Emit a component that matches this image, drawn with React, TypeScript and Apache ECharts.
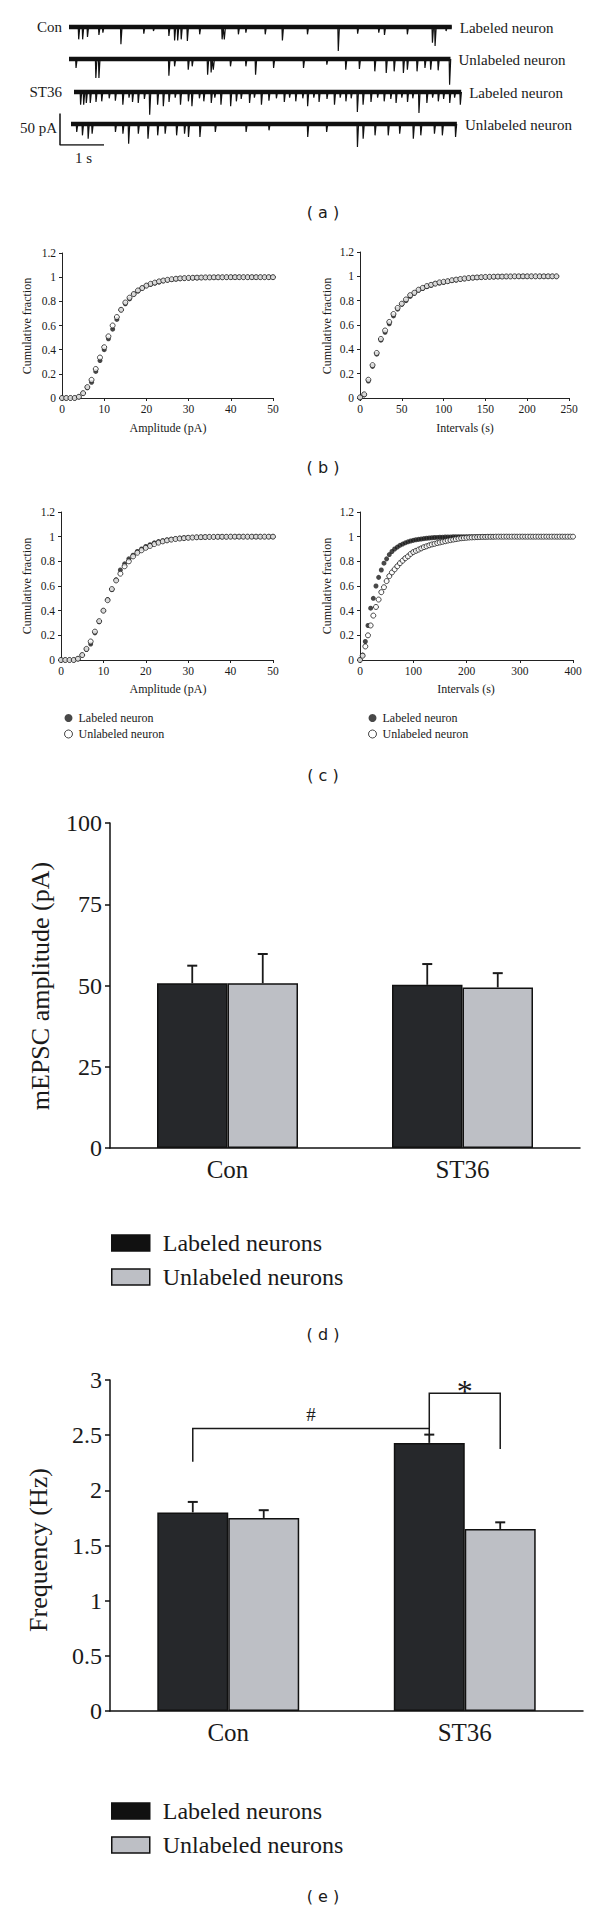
import React, { useEffect, useRef } from "react";
import * as echarts from "echarts";

const SERIF = "'Liberation Serif', 'Times New Roman', serif";
const SANS = "'DejaVu Sans', 'Liberation Sans', sans-serif";
const INK = "#1a1a1a";
const DARK_BAR = "#26282b";
const LIGHT_BAR = "#bdbfc5";

// ---------- Panel (a): mEPSC traces, spikes as [time (s), amplitude (pA)] ----------
const traceLeftLabels = ["Con", "", "ST36", ""];
const traceRightLabels = ["Labeled neuron", "Unlabeled neuron", "Labeled neuron", "Unlabeled neuron"];
const traceDurations = [8.7, 8.67, 8.8, 8.77];
const spikesConLabeled = [[0.22,19.6],[0.31,19.6],[0.42,15.9],[0.68,12.7],[0.77,9],[1.18,27.5],[1.7,10.6],[1.92,6.3],[2.27,14.3],[2.4,21.2],[2.47,21.2],[2.55,19.6],[2.69,22.2],[2.97,11.6],[3.48,19.6],[3.53,19.6],[3.85,11.6],[4.02,9],[4.46,11.6],[4.85,21.2],[5.42,11.6],[6.12,38],[6.56,10.6],[7.04,9],[7.17,12.7],[7.69,11.6],[8.26,24.9],[8.32,30],[8.57,6.3]];
const spikesConUnlabeled = [[0.16,14.3],[0.61,30.2],[0.68,30.2],[2.27,26.5],[2.4,11.6],[2.71,16.9],[2.8,11.6],[3.15,24.9],[3.23,21.2],[3.28,16.9],[3.67,11.6],[4.02,11.6],[4.24,24.9],[4.65,14.3],[5.33,14.3],[5.86,9],[6.29,16.9],[6.6,15.9],[6.95,19.6],[7.21,22.2],[7.39,19.6],[7.6,22.2],[7.69,16.9],[7.91,19.6],[8.09,14.3],[8.22,16.9],[8.39,18],[8.65,40.7]];
const spikesST36Labeled = [[0.15,20.1],[0.22,20.1],[0.28,17.5],[0.37,17.5],[0.5,15.9],[0.63,14.8],[0.8,10],[0.94,13.8],[1.11,20.1],[1.25,9],[1.33,15.9],[1.46,17.5],[1.6,11],[1.72,36],[1.9,20.1],[2.03,22.7],[2.16,15.9],[2.3,9],[2.42,20.1],[2.6,14.8],[2.68,22.7],[2.85,10],[2.95,14.8],[3.12,17.5],[3.2,9],[3.34,20.1],[3.56,22.7],[3.69,14.8],[3.8,11],[3.99,17.5],[4.1,9],[4.26,20.1],[4.43,13.8],[4.6,10],[4.78,15.9],[4.9,9],[5.04,14.8],[5.2,10],[5.31,22.7],[5.45,9],[5.57,15.9],[5.75,11],[5.92,20.1],[6.05,9],[6.18,14.8],[6.3,10],[6.44,31.7],[6.57,20.1],[6.75,15.9],[6.9,9],[7.05,14.8],[7.2,11],[7.32,17.5],[7.45,9],[7.58,15.9],[7.7,10],[7.84,33.3],[8.02,17.5],[8.15,9],[8.28,14.8],[8.4,11],[8.54,17.5],[8.65,9],[8.78,20.1]];
const spikesST36Unlabeled = [[0.13,12.7],[0.26,18],[0.39,23.3],[0.48,15.3],[1.01,12.7],[1.18,15.3],[1.31,31.2],[1.53,15.3],[1.75,23.3],[1.97,18],[2.14,15.3],[2.4,18],[2.58,15.3],[2.67,20.6],[2.93,20.6],[3.28,12.7],[3.98,12.7],[4.5,10],[5.38,20.6],[5.81,12.7],[6.51,36.5],[6.64,23.3],[6.91,18],[7.21,18],[7.47,15.3],[7.78,23.3],[7.95,18],[8.26,15.3],[8.44,18],[8.74,20.6]];
const traceSpikes = [spikesConLabeled, spikesConUnlabeled, spikesST36Labeled, spikesST36Unlabeled];
const scaleBarPA = 50;
const scaleBarS = 1;

// ---------- Panels (b) and (c): cumulative fractions ----------
const ampBin = 1;      // pA per point
const intervalBin = 5; // s per point
const bAmpLabeled = [0,0,0,0,0.01,0.04,0.085,0.13,0.22,0.31,0.4,0.49,0.57,0.65,0.73,0.78,0.82,0.86,0.885,0.91,0.93,0.94,0.95,0.96,0.97,0.975,0.98,0.985,0.988,0.99,0.992,0.994,0.995,0.996,0.997,0.998,0.998,0.999,0.999,0.999,1,1,1,1,1,1,1,1,1,1,1];
const bAmpUnlabeled = [0,0,0,0,0.01,0.04,0.09,0.15,0.24,0.335,0.42,0.51,0.6,0.67,0.73,0.79,0.83,0.86,0.89,0.91,0.93,0.945,0.955,0.965,0.972,0.978,0.983,0.987,0.99,0.992,0.994,0.995,0.996,0.997,0.998,0.998,0.999,0.999,0.999,1,1,1,1,1,1,1,1,1,1,1,1];
const bIntLabeled = [0,0.025,0.14,0.26,0.36,0.475,0.54,0.61,0.675,0.73,0.77,0.8,0.835,0.86,0.885,0.9,0.915,0.925,0.94,0.945,0.95,0.96,0.965,0.97,0.975,0.98,0.985,0.988,0.99,0.992,0.994,0.995,0.996,0.997,0.998,0.998,0.999,0.999,0.999,1,1,1,1,1,1,1,1,1];
const bIntUnlabeled = [0.005,0.03,0.15,0.27,0.37,0.485,0.555,0.625,0.69,0.74,0.775,0.81,0.845,0.865,0.89,0.905,0.92,0.93,0.94,0.95,0.955,0.96,0.968,0.973,0.978,0.982,0.986,0.989,0.991,0.993,0.995,0.996,0.997,0.998,0.998,0.999,0.999,1,1,1,1,1,1,1,1,1,1,1];
const cAmpLabeled = [0,0,0,0,0.01,0.04,0.085,0.13,0.22,0.31,0.4,0.49,0.57,0.65,0.73,0.78,0.82,0.85,0.88,0.9,0.92,0.935,0.95,0.96,0.967,0.973,0.978,0.983,0.987,0.99,0.992,0.994,0.995,0.996,0.997,0.998,0.998,0.999,0.999,0.999,1,1,1,1,1,1,1,1,1,1,1];
const cAmpUnlabeled = [0,0,0,0,0.01,0.04,0.09,0.15,0.23,0.315,0.4,0.485,0.575,0.645,0.7,0.76,0.8,0.84,0.87,0.89,0.91,0.925,0.94,0.952,0.962,0.97,0.976,0.981,0.985,0.988,0.991,0.993,0.995,0.996,0.997,0.998,0.998,0.999,0.999,0.999,1,1,1,1,1,1,1,1,1,1,1];
const cIntLabeled = [0,0.04,0.15,0.28,0.42,0.5,0.6,0.67,0.73,0.785,0.82,0.855,0.88,0.9,0.915,0.93,0.94,0.95,0.958,0.965,0.97,0.975,0.978,0.981,0.984,0.987,0.989,0.991,0.993,0.994,0.995,0.996,0.997,0.998,0.998,0.999,0.999,0.999,1,1,1,1,1,1,1,1,1,1,1,1,1];
const cIntUnlabeled = [0,0.035,0.11,0.2,0.28,0.36,0.43,0.49,0.55,0.59,0.64,0.68,0.71,0.735,0.76,0.785,0.805,0.825,0.84,0.86,0.875,0.885,0.895,0.905,0.915,0.922,0.93,0.937,0.942,0.948,0.953,0.958,0.963,0.968,0.972,0.976,0.98,0.984,0.987,0.989,0.991,0.993,0.994,0.995,0.996,0.997,0.998,0.998,0.999,0.999,0.999,1,1,1,1,1,1,1,1,1,1,1,1,1,1,1,1,1,1,1,1,1,1,1,1,1,1,1,1,1,1];

// ---------- Panels (d) and (e): bar charts ----------
const groups = ["Con", "ST36"];
const ampLabeled = [50.7, 50.2];
const ampLabeledSem = [5.4, 6.4];
const ampUnlabeled = [50.7, 49.4];
const ampUnlabeledSem = [9.0, 4.4];
const freqLabeled = [1.8, 2.43];
const freqLabeledSem = [0.095, 0.075];
const freqUnlabeled = [1.75, 1.65];
const freqUnlabeledSem = [0.07, 0.06];
const freqBrackets = [
  { label: "#", fromCat: 0, fromSide: -1, toCat: 1, toSide: -1, top: 2.56, fromEnd: 2.26, toEnd: 2.51 },
  { label: "*", fromCat: 1, fromSide: -1, toCat: 1, toSide: 1, top: 2.88, fromEnd: 2.56, toEnd: 2.375 },
];

const BAR_FRAC = 0.3;
const PX_PER_S = 44;
const PX_PER_PA = 0.63;
const TRACE_Y_MIN = -42;
const TRACE_Y_MAX = 8;
const TRACE_LEFT = [69, 69, 74, 71];
const TRACE_BASE = [27, 59, 92, 124];
const SCALE_BAR_BOTTOM = 145;

function spikeLine(spikes: number[][], dur: number) {
  const pts: number[][] = [[0, 0]];
  spikes.forEach(([t, a]) => {
    pts.push([t - 0.01, 0], [t, -a], [t + 0.025, 0]);
  });
  pts.push([dur, 0]);
  return pts;
}

function errorBarSeries(axisIndex: number, means: number[], sems: number[], side: number) {
  return {
    type: "custom",
    xAxisIndex: axisIndex,
    yAxisIndex: axisIndex,
    z: 5,
    clip: false,
    silent: true,
    data: means.map((m, i) => [i, m, m + sems[i]]),
    renderItem: (params: any, api: any) => {
      const base = api.coord([api.value(0), api.value(1)]);
      const top = api.coord([api.value(0), api.value(2)]);
      const band = api.size([1, 0])[0];
      const x = base[0] + (side * band * BAR_FRAC) / 2;
      return {
        type: "group",
        children: [
          { type: "line", shape: { x1: x, y1: base[1], x2: x, y2: top[1] }, style: { stroke: INK, lineWidth: 1.8 } },
          { type: "line", shape: { x1: x - 5, y1: top[1], x2: x + 5, y2: top[1] }, style: { stroke: INK, lineWidth: 2 } },
        ],
      };
    },
  };
}

function bracketSeries(axisIndex: number) {
  return {
    type: "custom",
    xAxisIndex: axisIndex,
    yAxisIndex: axisIndex,
    z: 6,
    clip: false,
    silent: true,
    data: freqBrackets.map((b) => [b.fromCat, b.top]),
    renderItem: (params: any, api: any) => {
      const b = freqBrackets[params.dataIndex];
      const band = api.size([1, 0])[0];
      const x1 = api.coord([b.fromCat, b.top])[0] + (b.fromSide * band * BAR_FRAC) / 2;
      const x2 = api.coord([b.toCat, b.top])[0] + (b.toSide * band * BAR_FRAC) / 2;
      const yTop = api.coord([b.fromCat, b.top])[1];
      const y1 = api.coord([b.fromCat, b.fromEnd])[1];
      const y2 = api.coord([b.toCat, b.toEnd])[1];
      const isStar = b.label === "*";
      return {
        type: "group",
        children: [
          {
            type: "polyline",
            shape: { points: [[x1, y1], [x1, yTop], [x2, yTop], [x2, y2]] },
            style: { stroke: INK, lineWidth: 1.5, fill: null },
          },
          {
            type: "text",
            x: (x1 + x2) / 2,
            y: isStar ? yTop - 2 : yTop - 14,
            style: {
              text: b.label,
              fontFamily: SERIF,
              fontSize: isStar ? 32 : 19,
              fill: INK,
              align: "center",
              verticalAlign: "middle",
            },
          },
        ],
      };
    },
  };
}

function txt(text: string, x: number, y: number, size: number, opts: any = {}) {
  return {
    type: "text",
    x,
    y,
    rotation: opts.rotate ? Math.PI / 2 : 0,
    silent: true,
    style: {
      text,
      fontFamily: opts.family || SERIF,
      fontSize: size,
      fill: INK,
      align: opts.align || "center",
      verticalAlign: "middle",
    },
  };
}

export default function App() {
  const ref = useRef<HTMLDivElement>(null);

  useEffect(() => {
    document.body.style.margin = "0";
    if (!ref.current) return;
    const chart = echarts.init(ref.current, null, { renderer: "svg" });

    const grids: any[] = [];
    const xAxes: any[] = [];
    const yAxes: any[] = [];
    const series: any[] = [];

    // Panel (a) traces
    traceSpikes.forEach((spikes, i) => {
      const dur = traceDurations[i];
      grids.push({
        left: TRACE_LEFT[i],
        top: TRACE_BASE[i] - TRACE_Y_MAX * PX_PER_PA,
        width: dur * PX_PER_S,
        height: (TRACE_Y_MAX - TRACE_Y_MIN) * PX_PER_PA,
        outerBoundsMode: "none",
      });
      xAxes.push({ type: "value", gridIndex: i, min: 0, max: dur, show: false });
      yAxes.push({ type: "value", gridIndex: i, min: TRACE_Y_MIN, max: TRACE_Y_MAX, show: false });
      series.push({
        type: "line",
        xAxisIndex: i,
        yAxisIndex: i,
        data: [[0, 0], [dur, 0]],
        showSymbol: false,
        lineStyle: { color: "#111", width: 4.5 },
        silent: true,
      });
      series.push({
        type: "line",
        xAxisIndex: i,
        yAxisIndex: i,
        data: spikeLine(spikes, dur),
        showSymbol: false,
        lineStyle: { color: "#111", width: 1.2 },
        silent: true,
      });
    });
    // scale bar grid (index 4)
    grids.push({
      left: 60,
      top: SCALE_BAR_BOTTOM - scaleBarPA * PX_PER_PA,
      width: scaleBarS * PX_PER_S,
      height: scaleBarPA * PX_PER_PA,
      outerBoundsMode: "none",
    });
    xAxes.push({ type: "value", gridIndex: 4, min: 0, max: scaleBarS, show: false });
    yAxes.push({ type: "value", gridIndex: 4, min: 0, max: scaleBarPA, show: false });
    series.push({
      type: "line",
      xAxisIndex: 4,
      yAxisIndex: 4,
      data: [[0, scaleBarPA], [0, 0], [scaleBarS, 0]],
      showSymbol: false,
      lineStyle: { color: "#111", width: 1.5 },
      silent: true,
    });

    // Panels (b), (c)
    const cumPanels = [
      { grid: { left: 62, top: 253, width: 211, height: 145 }, xMax: 50, xInt: 10, bin: ampBin, lab: bAmpLabeled, unl: bAmpUnlabeled },
      { grid: { left: 360, top: 252, width: 209, height: 146 }, xMax: 250, xInt: 50, bin: intervalBin, lab: bIntLabeled, unl: bIntUnlabeled },
      { grid: { left: 61, top: 512, width: 212, height: 148 }, xMax: 50, xInt: 10, bin: ampBin, lab: cAmpLabeled, unl: cAmpUnlabeled },
      { grid: { left: 360, top: 512, width: 213, height: 148 }, xMax: 400, xInt: 100, bin: intervalBin, lab: cIntLabeled, unl: cIntUnlabeled },
    ];
    const thinAxis = { show: true, lineStyle: { color: "#222", width: 1 } };
    cumPanels.forEach((p, k) => {
      const gi = 5 + k;
      grids.push({ ...p.grid, outerBoundsMode: "none" });
      xAxes.push({
        type: "value",
        gridIndex: gi,
        min: 0,
        max: p.xMax,
        interval: p.xInt,
        axisLine: thinAxis,
        axisTick: { show: true, length: 3, lineStyle: { color: "#222" } },
        axisLabel: { fontFamily: SERIF, fontSize: 11.5, color: INK, margin: 5 },
        splitLine: { show: false },
      });
      yAxes.push({
        type: "value",
        gridIndex: gi,
        min: 0,
        max: 1.2,
        interval: 0.2,
        axisLine: thinAxis,
        axisTick: { show: true, length: 3, lineStyle: { color: "#222" } },
        axisLabel: { fontFamily: SERIF, fontSize: 11.5, color: INK, margin: 6 },
        splitLine: { show: false },
      });
      series.push({
        type: "scatter",
        name: "Labeled neuron",
        xAxisIndex: gi,
        yAxisIndex: gi,
        data: p.lab.map((v, i) => [i * p.bin, v]),
        symbol: "circle",
        symbolSize: 5,
        itemStyle: { color: INK },
        z: 2,
        silent: true,
      });
      series.push({
        type: "scatter",
        name: "Unlabeled neuron",
        xAxisIndex: gi,
        yAxisIndex: gi,
        data: p.unl.map((v, i) => [i * p.bin, v]),
        symbol: "circle",
        symbolSize: 5,
        itemStyle: { color: "#fff", borderColor: INK, borderWidth: 1 },
        z: 3,
        silent: true,
      });
    });

    // Panels (d), (e)
    const barPanels = [
      { grid: { left: 110, top: 823, width: 470, height: 325 }, max: 100, interval: 25, lab: ampLabeled, labSem: ampLabeledSem, unl: ampUnlabeled, unlSem: ampUnlabeledSem },
      { grid: { left: 110, top: 1380, width: 473, height: 331 }, max: 3, interval: 0.5, lab: freqLabeled, labSem: freqLabeledSem, unl: freqUnlabeled, unlSem: freqUnlabeledSem },
    ];
    const thickAxis = { show: true, lineStyle: { color: "#111", width: 1.5 } };
    barPanels.forEach((p, k) => {
      const gi = 9 + k;
      grids.push({ ...p.grid, outerBoundsMode: "none" });
      xAxes.push({
        type: "category",
        gridIndex: gi,
        data: groups,
        axisLine: thickAxis,
        axisTick: { show: false },
        axisLabel: { fontFamily: SERIF, fontSize: 25, color: INK, margin: 9 },
      });
      yAxes.push({
        type: "value",
        gridIndex: gi,
        min: 0,
        max: p.max,
        interval: p.interval,
        axisLine: thickAxis,
        axisTick: { show: true, length: 5, lineStyle: { color: "#111", width: 1.5 } },
        axisLabel: { fontFamily: SERIF, fontSize: 24, color: INK, margin: 8 },
        splitLine: { show: false },
      });
      series.push({
        type: "bar",
        name: "Labeled neurons",
        xAxisIndex: gi,
        yAxisIndex: gi,
        data: p.lab,
        barWidth: `${BAR_FRAC * 100}%`,
        barGap: "0%",
        itemStyle: { color: DARK_BAR, borderColor: "#111", borderWidth: 1.5 },
        silent: true,
      });
      series.push({
        type: "bar",
        name: "Unlabeled neurons",
        xAxisIndex: gi,
        yAxisIndex: gi,
        data: p.unl,
        barWidth: `${BAR_FRAC * 100}%`,
        barGap: "0%",
        itemStyle: { color: LIGHT_BAR, borderColor: "#111", borderWidth: 1.5 },
        silent: true,
      });
      series.push(errorBarSeries(gi, p.lab, p.labSem, -1));
      series.push(errorBarSeries(gi, p.unl, p.unlSem, 1));
    });
    series.push(bracketSeries(10));

    const circleLegend = (left: number) => ({
      left,
      top: 707,
      orient: "vertical",
      itemWidth: 8,
      itemHeight: 8,
      itemGap: 4,
      selectedMode: false,
      textStyle: { fontFamily: SERIF, fontSize: 12, color: INK, lineHeight: 12, padding: [0, 0, 0, 1] },
      data: [
        { name: "Labeled neuron", icon: "circle", itemStyle: { color: INK, borderWidth: 0 } },
        { name: "Unlabeled neuron", icon: "circle", itemStyle: { color: "#fff", borderColor: INK, borderWidth: 1 } },
      ],
    });
    const barLegend = (top: number) => ({
      left: 106,
      top,
      orient: "vertical",
      itemWidth: 38,
      itemHeight: 16,
      itemGap: 10,
      selectedMode: false,
      textStyle: { fontFamily: SERIF, fontSize: 24, color: INK, lineHeight: 24, padding: [0, 0, 0, 8] },
      data: [
        { name: "Labeled neurons", icon: "rect", itemStyle: { color: "#111", borderColor: "#111", borderWidth: 1.5 } },
        { name: "Unlabeled neurons", icon: "rect", itemStyle: { color: LIGHT_BAR, borderColor: "#111", borderWidth: 1.5 } },
      ],
    });

    const graphic: any[] = [];
    // Panel (a) texts
    traceLeftLabels.forEach((t, i) => {
      if (t) graphic.push(txt(t, 62, TRACE_BASE[i], 15, { align: "right" }));
    });
    traceRightLabels.forEach((t, i) => {
      const end = TRACE_LEFT[i] + traceDurations[i] * PX_PER_S;
      graphic.push(txt(t, end + 8, TRACE_BASE[i] + 1, 15, { align: "left" }));
    });
    graphic.push(txt(`${scaleBarPA} pA`, 57, 128, 15, { align: "right" }));
    graphic.push(txt(`${scaleBarS} s`, 75, 158, 15, { align: "left" }));
    // axis titles (b), (c)
    graphic.push(txt("Cumulative fraction", 27, 326, 12, { rotate: true }));
    graphic.push(txt("Cumulative fraction", 327, 326, 12, { rotate: true }));
    graphic.push(txt("Cumulative fraction", 27, 586, 12, { rotate: true }));
    graphic.push(txt("Cumulative fraction", 327, 586, 12, { rotate: true }));
    graphic.push(txt("Amplitude (pA)", 168, 428, 12));
    graphic.push(txt("Intervals (s)", 465, 428, 12));
    graphic.push(txt("Amplitude (pA)", 168, 689, 12));
    graphic.push(txt("Intervals (s)", 466, 689, 12));
    // axis titles (d), (e)
    graphic.push(txt("mEPSC amplitude (pA)", 40, 986, 26, { rotate: true }));
    graphic.push(txt("Frequency (Hz)", 38, 1550, 26, { rotate: true }));
    // panel labels
    const panelLabels = [["( a )", 212], ["( b )", 467], ["( c )", 775], ["( d )", 1334], ["( e )", 1896]];
    panelLabels.forEach(([t, y]) => graphic.push(txt(t as string, 323, y as number, 16, { family: SANS })));

    chart.setOption({
      animation: false,
      backgroundColor: "#fff",
      textStyle: { fontFamily: SERIF },
      grid: grids,
      xAxis: xAxes,
      yAxis: yAxes,
      legend: [circleLegend(59), circleLegend(363), barLegend(1226), barLegend(1794)],
      graphic,
      series,
    });

    return () => chart.dispose();
  }, []);

  return <div ref={ref} style={{ width: 600, height: 1908 }} />;
}
